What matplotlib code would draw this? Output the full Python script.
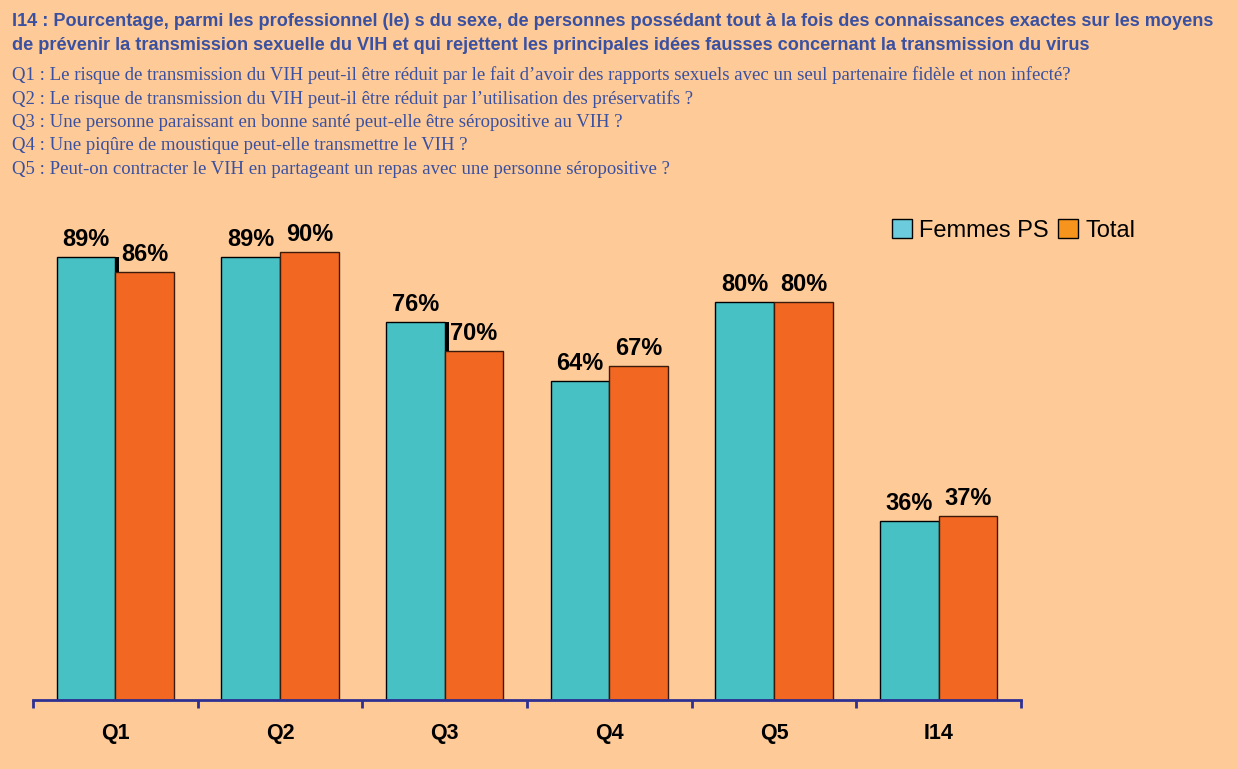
import numpy as np
import matplotlib.pyplot as plt
from matplotlib.patches import Patch

# data
categories = ['Q1', 'Q2', 'Q3', 'Q4', 'Q5', 'I14']
femmes_ps = [89, 89, 76, 64, 80, 36]
total = [86, 90, 70, 67, 80, 37]

title_lines = ["I14 : Pourcentage, parmi les professionnel (le) s du sexe, de personnes possédant tout à la fois des connaissances exactes sur les moyens",
               "de prévenir la transmission sexuelle du VIH et qui rejettent les principales idées fausses concernant la transmission du virus"]
questions = ["Q1 : Le risque de transmission du VIH peut-il être réduit par le fait d\u2019avoir des rapports sexuels avec un seul partenaire fidèle et non infecté?",
             "Q2 : Le risque de transmission du VIH peut-il être réduit par l\u2019utilisation des préservatifs ?",
             "Q3 : Une personne paraissant en bonne santé peut-elle être séropositive au VIH ?",
             "Q4 : Une piqûre de moustique peut-elle transmettre le VIH ?",
             "Q5 : Peut-on contracter le VIH en partageant un repas avec une personne séropositive ?"]

bg = '#FECB98'
teal = '#48C1C5'
orange = '#F26822'
navy = '#2E3192'
blue_txt = '#3A50A0'

fig = plt.figure(figsize=(12.38, 7.69), dpi=100, facecolor=bg)
ax = fig.add_axes([0.0267, 0.0897, 0.798, 0.6476])
ax.set_facecolor(bg)

x = np.arange(len(categories))
w = 0.357
b1 = ax.bar(x - w/2, femmes_ps, w, color=teal, edgecolor='black', linewidth=1)
b2 = ax.bar(x + w/2, total, w, color=orange, edgecolor='#3a1a0a', linewidth=1)

# little dark 3D side where teal is taller than orange
for i in range(len(x)):
    if femmes_ps[i] - total[i] > 1:
        ax.bar(x[i] + 0.012, femmes_ps[i] - total[i], 0.024, bottom=total[i], color='black', linewidth=0)

for i in range(len(x)):
    ax.text(x[i] - w/2, femmes_ps[i] + 1.2, '%d%%' % femmes_ps[i], ha='center', va='bottom',
            fontsize=17, fontweight='bold', family='Liberation Sans')
    ax.text(x[i] + w/2, total[i] + 1.2, '%d%%' % total[i], ha='center', va='bottom',
            fontsize=17, fontweight='bold', family='Liberation Sans')

ax.set_xlim(-0.5, len(x) - 0.5)
ax.set_ylim(0, 100)
ax.set_yticks([])
for s in ['top', 'right', 'left']:
    ax.spines[s].set_visible(False)
ax.spines['bottom'].set_color(navy)
ax.spines['bottom'].set_linewidth(2)
ax.set_xticks(np.arange(-0.5, len(x), 1.0))
ax.set_xticklabels([])
ax.tick_params(axis='x', color=navy, width=2, length=6, direction='out')
for i, c in enumerate(categories):
    ax.text(x[i], -6.7, c, ha='center', va='center', fontsize=15.5, fontweight='bold',
            family='Liberation Sans')

# legend
handles = [Patch(facecolor='#6CCBDC', edgecolor='black', label='Femmes PS'),
           Patch(facecolor='#F7941D', edgecolor='black', label='Total')]
fig.legend(handles=handles, loc='center left', bbox_to_anchor=(0.713, 0.70), ncol=2, frameon=False,
           prop={'family': 'Liberation Sans', 'size': 17}, handlelength=0.85, handleheight=0.85,
           handletextpad=0.3, columnspacing=0.4, borderaxespad=0)

# title and questions
fig.text(12/1238, 1 - 22/769, title_lines[0], ha='left', va='center', fontsize=13.1,
         fontweight='bold', color=blue_txt, family='Liberation Sans')
fig.text(12/1238, 1 - 45/769, title_lines[1], ha='left', va='center', fontsize=13.1,
         fontweight='bold', color=blue_txt, family='Liberation Sans')
for k, q in enumerate(questions):
    fig.text(12/1238, 1 - (75 + 23.6*k)/769, q, ha='left', va='center', fontsize=13.5,
             color=blue_txt, family='Liberation Serif')

fig.savefig('out.png', dpi=100, facecolor=bg)
